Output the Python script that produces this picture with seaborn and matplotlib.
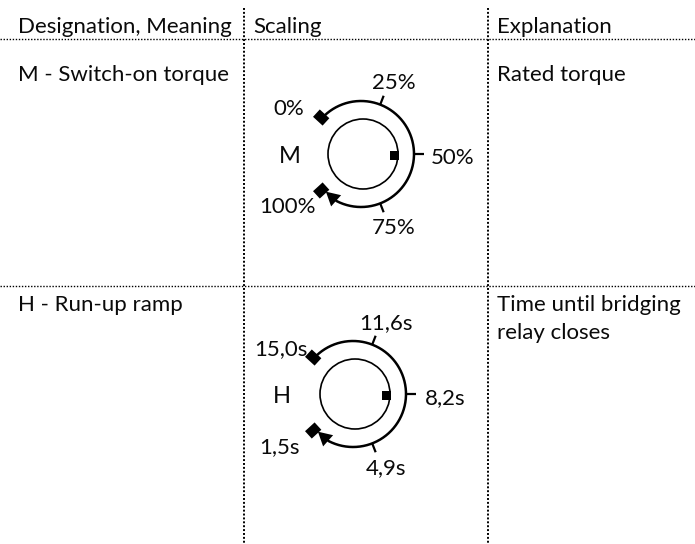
import numpy as np
import matplotlib
matplotlib.use("Agg")
import matplotlib.pyplot as plt
import seaborn as sns
import pandas as pd
from matplotlib.patches import Circle, Polygon

# ---- data ----
headers = ["Designation, Meaning", "Scaling", "Explanation"]
designations = ["M - Switch-on torque", "H - Run-up ramp"]
explanations = ["Rated torque", "Time until bridging\nrelay closes"]
dial_letters = ["M", "H"]
m_scale = ["0%", "25%", "50%", "75%", "100%"]
h_scale = ["15,0s", "11,6s", "8,2s", "4,9s", "1,5s"]
scale_fraction = [0.0, 0.25, 0.5, 0.75, 1.0]

# ---- layout / style ----
W, H = 695, 544
FONT = ["Lato", "DejaVu Sans"]
FS = 16
TXT = "#0a0a0a"
col_x = [244, 488]
row_y = [39, 285.5]
text_x = [18, 253, 497]
header_base = 33
row_base = [81, 311]
line_gap = 28
dial_centers = [(361, 154), (353, 394)]
R_OUT, R_IN = 53, 35
START_ANG, SWEEP = 137.5, 275.0
# label offsets (dx, baseline dy) for scale positions and letter
label_off = [(-72, -39), (33, -65), (92, 10), (33, 80), (-74, 59)]
letter_off = (-71, 9)

sns.set_theme(style="white")
plt.rcParams["font.family"] = FONT

fig = plt.figure(figsize=(W / 100, H / 100), dpi=100)
ax = fig.add_axes([0, 0, 1, 1])

# table rules (dotted) via seaborn
for x in col_x:
    sns.lineplot(x=[x, x], y=[8, H], ax=ax, color="black", lw=1.4,
                 linestyle=(0, (1, 1)), estimator=None, sort=False)
for y in row_y:
    sns.lineplot(x=[0, W], y=[y, y], ax=ax, color="black", lw=1.0,
                 linestyle=(0, (1, 1.2)), estimator=None, sort=False)

# texts
for tx, t in zip(text_x, headers):
    ax.text(tx, header_base, t, fontsize=FS, ha="left", va="baseline", color=TXT)
for i in range(2):
    ax.text(text_x[0], row_base[i], designations[i], fontsize=FS, ha="left",
            va="baseline", color=TXT)
    for k, line in enumerate(explanations[i].split("\n")):
        ax.text(text_x[2], row_base[i] + k * line_gap, line, fontsize=FS,
                ha="left", va="baseline", color=TXT)


def pt(c, r, ang):
    a = np.deg2rad(ang)
    return np.array([c[0] + r * np.cos(a), c[1] - r * np.sin(a)])


def draw_dial(c, letter, labels):
    angs = [START_ANG - f * SWEEP for f in scale_fraction]
    # inner circle
    ax.add_patch(Circle((c[0] + 2, c[1]), R_IN, fill=False, ec="black", lw=1.2))
    # inner index square
    s = 9
    sx, sy = c[0] + 33, c[1] + 1
    ax.add_patch(Polygon([[sx - s / 2, sy - s / 2], [sx + s / 2, sy - s / 2],
                          [sx + s / 2, sy + s / 2], [sx - s / 2, sy + s / 2]],
                         closed=True, fc="black", ec="none"))
    # outer arc
    end_arc = angs[-1] + 19
    th = np.linspace(angs[0], end_arc, 200)
    p = np.array([pt(c, R_OUT, t) for t in th])
    ax.plot(p[:, 0], p[:, 1], color="black", lw=1.8, solid_capstyle="butt")
    # arrow head
    B = pt(c, R_OUT, end_arc + 0.5)
    T = pt(c, R_OUT - 1.5, angs[-1] + 4.5)
    d = (T - B) / np.linalg.norm(T - B)
    n = np.array([-d[1], d[0]])
    ax.add_patch(Polygon([T, B + n * 7.5, B - n * 7.5], closed=True, fc="black", ec="none"))
    # end markers
    for a in (angs[0], angs[-1]):
        ctr = pt(c, R_OUT + 1, a)
        ru = pt(c, 1, a) - np.array(c)
        tu = np.array([-ru[1], ru[0]])
        corners = [ctr + ru * 6.5 + tu * 5, ctr + ru * 6.5 - tu * 5,
                   ctr - ru * 6.5 - tu * 5, ctr - ru * 6.5 + tu * 5]
        ax.add_patch(Polygon(corners, closed=True, fc="black", ec="none"))
    # ticks
    for a in angs[1:-1]:
        p0, p1 = pt(c, R_OUT, a), pt(c, R_OUT + 9.5, a)
        ax.plot([p0[0], p1[0]], [p0[1], p1[1]], color="black", lw=1.6,
                solid_capstyle="butt")
    # labels
    for (dx, dy), lab in zip(label_off, labels):
        ax.text(c[0] + dx, c[1] + dy, lab, fontsize=FS, ha="center",
                va="baseline", color=TXT)
    ax.text(c[0] + letter_off[0], c[1] + letter_off[1], letter, fontsize=FS + 1,
            ha="center", va="baseline", color=TXT)


draw_dial(dial_centers[0], dial_letters[0], m_scale)
draw_dial(dial_centers[1], dial_letters[1], h_scale)

ax.set_xlim(0, W)
ax.set_ylim(H, 0)
ax.set_aspect("equal")
ax.axis("off")
fig.savefig("out.png", dpi=100, facecolor="white")
